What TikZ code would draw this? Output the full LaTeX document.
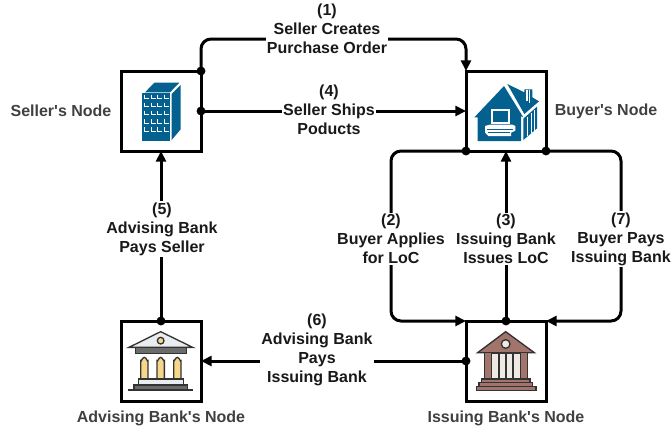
\documentclass[tikz,border=0pt]{standalone}
\usepackage{fontspec}
\setmainfont{Liberation Sans}[Ligatures=TeXOff]
\usetikzlibrary{arrows.meta,positioning}

\definecolor{towerblue}{HTML}{03608F}
\definecolor{bankgrey}{HTML}{6B6B6B}
\definecolor{bankline}{HTML}{333333}
\definecolor{bankgold}{HTML}{F6D68B}
\definecolor{bankpale}{HTML}{E9EDF0}
\definecolor{bankbrown}{HTML}{A1756C}
\definecolor{bankcream}{HTML}{ECEAE2}

\tikzset{
  partybox/.style={draw,line width=2.25pt,minimum size=60pt,outer sep=0pt,inner sep=0pt},
  partyname/.style={font=\bfseries\fontsize{12}{14}\selectfont,text=black!75},
  steptext/.style={font=\bfseries\fontsize{12}{14.25}\selectfont,align=center,fill=white,
    inner sep=1pt,text=black!90},
  flow/.style={line width=2.25pt,rounded corners=7.5pt,shorten <=-3.25pt,
    {Circle[length=6.5pt]}-{Triangle[length=8pt,width=7.5pt]}},
  tower/.pic={
    \begin{scope}[shift={(-153,-153)}]
      \fill[towerblue] (97,100) -- (180,100) -- (180,243) -- (97,243) -- cycle;
      \fill[towerblue] (105,97) -- (133,68) -- (208,68) -- (180,97) -- cycle;
      \fill[towerblue] (185,102) -- (212,75) -- (212,208) -- (185,240) -- cycle;
      \foreach \row in {104,128,152,178,202}
        \foreach \col in {103,123,143,163}
          \draw[white,line width=.6pt] (\col,\row) -- (\col,\row+11) -- (\col+14,\row+11);
    \end{scope}
  },
  house/.pic={
    \begin{scope}[shift={(-153,-153)}]
      \fill[towerblue] (147,78) -- (58,172) -- (68,172) -- (68,243) -- (198,243)
        -- (198,168) -- (205,172) -- cycle;
      \fill[towerblue] (157,72) -- (208,97) -- (208,88) -- (232,88) -- (232,112)
        -- (252,124) -- (208,162) -- cycle;
      \fill[towerblue] (205,176) -- (246,140) -- (246,205) -- (205,240) -- cycle;
      \draw[white,line width=.7pt] (217,170) -- (217,228) (228,160) -- (228,220) (238,150) -- (238,212);
      \draw[white,line width=1pt] (216,90) -- (216,122) (224,90) -- (224,128);
      % computer
      \fill[white] (108,147) rectangle (165,191);
      \fill[towerblue] (114,153) rectangle (160,186);
      \fill[white] (90,198) -- (104,194) -- (172,194) -- (181,198) -- (181,212) -- (168,218)
        -- (168,228) -- (100,228) -- (90,218) -- cycle;
      \draw[towerblue,line width=.6pt] (96,208) -- (175,208) (100,218) -- (165,218);
    \end{scope}
  },
  goldbank/.pic={
    \begin{scope}[shift={(-153,-153)},draw=bankline,line width=1pt]
      \filldraw[fill=bankpale] (152,65) -- (248,112) -- (57,112) -- cycle;
      \filldraw[fill=bankgold] (152,92) circle (10);
      \filldraw[fill=bankgrey] (77,113) rectangle (230,130);
      \foreach \col in {103,152,202}
        \filldraw[fill=bankgold] (\col-11,207) -- (\col-11,153) to[out=-90,in=180] (\col,142)
          to[out=0,in=-90] (\col+11,153) -- (\col+11,207) -- cycle;
      \filldraw[fill=bankpale] (85,207) rectangle (220,225);
      \filldraw[fill=bankgrey] (72,225) rectangle (233,240);
      \draw (55,240) -- (250,240);
    \end{scope}
  },
  brownbank/.pic={
    \begin{scope}[shift={(-153,-153)},draw=bankline,line width=1pt]
      \filldraw[fill=bankbrown] (152,65) -- (238,128) -- (68,128) -- cycle;
      \filldraw[fill=bankcream] (152,102) circle (13);
      \filldraw[fill=bankbrown] (88,128) rectangle (110,207);
      \filldraw[fill=bankbrown] (196,128) rectangle (218,207);
      \foreach \col in {110,132,154,176}
        \filldraw[fill=bankcream] (\col,130) rectangle (\col+20,207);
      \filldraw[fill=bankbrown] (80,207) rectangle (225,218);
      \filldraw[fill=bankbrown] (72,218) rectangle (233,229);
      \filldraw[fill=bankbrown] (64,229) rectangle (243,241);
    \end{scope}
  }
}

\begin{document}
\begin{tikzpicture}[x=.75pt,y=-.75pt,node distance=187.5pt and 258.75pt,on grid]
  \useasboundingbox (0,0) rectangle (671,429);

  \node[partybox] (seller)   at (161,111)          {};
  \node[partybox] (buyer)    [right=of seller]     {};
  \node[partybox] (advising) [below=of seller]     {};
  \node[partybox] (issuing)  [right=of advising]   {};

  \pic[scale=1/3] at (seller)   {tower};
  \pic[scale=1/3] at (buyer)    {house};
  \pic[scale=1/3] at (advising) {goldbank};
  \pic[scale=1/3] at (issuing)  {brownbank};

  \node[partyname] (sellername)   [left=75pt of seller]   {Seller's Node};
  \node[partyname] (buyername)    [right=75pt of buyer]   {Buyer's Node};
  \node[partyname] (advisingname) [below=42.75pt of advising] {Advising Bank's Node};
  \node[partyname] (issuingname)  [below=42.75pt of issuing]  {Issuing Bank's Node};

  \draw[flow] (seller.north east) -- ++(0,-32) -| (buyer.north west);
  \draw[flow] (seller.east) -- (buyer.west);
  \draw[flow] (buyer.south west) -- ++(-75,0) |- (issuing.north west);
  \draw[flow] (issuing.north) -- (buyer.south);
  \draw[flow] (buyer.south east) -- ++(75,0) |- (issuing.north east);
  \draw[flow] (advising.north) -- (seller.south);
  \draw[flow] (issuing.west) -- (advising.east);

  \node[steptext] (step1) at (327,29)  {(1)\\Seller Creates\\Purchase Order};
  \node[steptext] (step4) at (329,110) {(4)\\Seller Ships\\Poducts};
  \node[steptext] (step2) at (391,239) {(2)\\Buyer Applies\\for LoC};
  \node[steptext] (step3) at (506,239) {(3)\\Issuing Bank\\Issues LoC};
  \node[steptext] (step7) at (621,239) {(7)\\Buyer Pays\\Issuing Bank};
  \node[steptext] (step5) at (162,229) {(5)\\Advising Bank\\Pays Seller};
  \node[steptext] (step6) at (317,350) {(6)\\Advising Bank\\Pays\\Issuing Bank};
\end{tikzpicture}
\end{document}
